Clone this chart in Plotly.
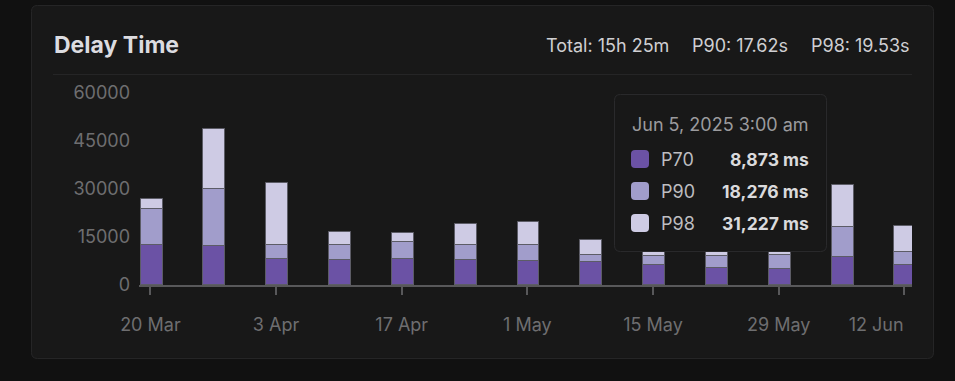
import plotly.graph_objects as go

# ---------------- data ----------------
dates = ["2025-03-20 03:00", "2025-03-27 03:00", "2025-04-03 03:00", "2025-04-10 03:00",
         "2025-04-17 03:00", "2025-04-24 03:00", "2025-05-01 03:00", "2025-05-08 03:00",
         "2025-05-15 03:00", "2025-05-22 03:00", "2025-05-29 03:00", "2025-06-05 03:00",
         "2025-06-12 03:00"]
p70 = [12500, 12300, 8100, 7800, 8200, 7800, 7600, 7050, 6350, 5400, 5000, 8873, 6350]
p90 = [23700, 30000, 12400, 12600, 13500, 12500, 12600, 9350, 9150, 9150, 9250, 18276, 10400]
p98 = [26900, 48800, 31800, 16500, 16100, 19000, 19750, 14000, 13000, 12000, 12500, 31227, 18400]

series_names = ["P70", "P90", "P98"]
series_colors = ["#6b52a5", "#a19dcb", "#cecbe4"]

x_tick_vals = ["2025-03-20", "2025-04-03", "2025-04-17", "2025-05-01",
               "2025-05-15", "2025-05-29", "2025-06-12"]
x_tick_text = ["20 Mar", "3 Apr", "17 Apr", "1 May", "15 May", "29 May", "12 Jun"]
y_tick_vals = [0, 15000, 30000, 45000, 60000]

title_text = "Delay Time"
stats_text = ["Total: 15h 25m", "P90: 17.62s", "P98: 19.53s"]
tooltip_title = "Jun 5, 2025 3:00 am"
tooltip_idx = 11

# ---------------- layout geometry (pixels) ----------------
W, H = 955, 381
L, R, T, B = 139, 912, 93, 285
FONT = "Inter"
X_RANGE = ["2025-03-18 17:30", "2025-06-12 20:30"]


def px_x(x):
    return (x - L) / (R - L)


def px_y(y):
    return (B - y) / (B - T)


def rrect(x0, y0, x1, y1, r):
    def P(x, y):
        return f"{px_x(x):.5f},{px_y(y):.5f}"
    return (f"M {P(x0 + r, y0)} L {P(x1 - r, y0)} Q {P(x1, y0)} {P(x1, y0 + r)} "
            f"L {P(x1, y1 - r)} Q {P(x1, y1)} {P(x1 - r, y1)} "
            f"L {P(x0 + r, y1)} Q {P(x0, y1)} {P(x0, y1 - r)} "
            f"L {P(x0, y0 + r)} Q {P(x0, y0)} {P(x0 + r, y0)} Z")


BAR_W = 2.45 * 86400000

fig = go.Figure()
values = {"P70": p70, "P90": p90, "P98": p98}
for name, color in reversed(list(zip(series_names, series_colors))):
    fig.add_trace(go.Bar(
        x=dates, y=values[name], name=name, width=BAR_W,
        marker=dict(color=color, line=dict(color="#5c5c66", width=1)),
        showlegend=False, hoverinfo="skip",
    ))
# invisible helper trace so the overlay axis (last tick label, left-aligned to its tick) is drawn
fig.add_trace(go.Scatter(x=[dates[-1]], y=[0], xaxis="x2", mode="markers",
                         marker=dict(opacity=0), showlegend=False, hoverinfo="skip"))

shapes = []
shapes.append(dict(type="path", xref="paper", yref="paper", layer="below",
                   path=rrect(31.5, 5.5, 933.5, 358.5, 6),
                   fillcolor="#181818", line=dict(color="#262627", width=1)))
shapes.append(dict(type="line", xref="paper", yref="paper", layer="below",
                   x0=px_x(53), x1=px_x(912), y0=px_y(74.5), y1=px_y(74.5),
                   line=dict(color="#252526", width=1)))
shapes.append(dict(type="path", xref="paper", yref="paper", layer="above",
                   path=rrect(614.5, 94.5, 826.5, 251.5, 6),
                   fillcolor="#181818", line=dict(color="#2a2a2c", width=1)))

annotations = []
annotations.append(dict(xref="paper", yref="paper", x=px_x(52), y=px_y(45),
                        xanchor="left", yanchor="middle", showarrow=False,
                        text=title_text,
                        font=dict(family=FONT, size=23, color="#dcdce0", weight="bold")))
stat_right = [671, 790, 912]
for txt, xr in zip(stats_text, stat_right):
    annotations.append(dict(xref="paper", yref="paper", x=px_x(xr), y=px_y(45),
                            xanchor="right", yanchor="middle", showarrow=False,
                            text=txt, font=dict(family=FONT, size=18, color="#cfcfd2")))

annotations.append(dict(xref="paper", yref="paper", x=px_x(630), y=px_y(124),
                        xanchor="left", yanchor="middle", showarrow=False,
                        text=tooltip_title,
                        font=dict(family=FONT, size=18, color="#9b9b9e")))
row_y = [159, 191, 223]
for name, color, ry in zip(series_names, series_colors, row_y):
    shapes.append(dict(type="path", xref="paper", yref="paper", layer="above",
                       path=rrect(631, ry - 9, 649, ry + 9, 4),
                       fillcolor=color, line=dict(width=0)))
    annotations.append(dict(xref="paper", yref="paper", x=px_x(659), y=px_y(ry),
                            xanchor="left", yanchor="middle", showarrow=False,
                            text=name, font=dict(family=FONT, size=18, color="#bdbdc0")))
    annotations.append(dict(xref="paper", yref="paper", x=px_x(811), y=px_y(ry),
                            xanchor="right", yanchor="middle", showarrow=False,
                            text=f"{values[name][tooltip_idx]:,} ms",
                            font=dict(family=FONT, size=17.5, color="#dadadc", weight="bold")))

main_tick_text = x_tick_text[:-1] + [""]
tickfont = dict(family=FONT, size=18, color="#6e6e70")

fig.update_layout(
    width=W, height=H,
    margin=dict(l=L, r=W - R, t=T, b=H - B, pad=0, autoexpand=False),
    paper_bgcolor="#111111", plot_bgcolor="rgba(0,0,0,0)",
    barmode="overlay", bargap=0,
    hovermode=False,
    shapes=shapes, annotations=annotations,
    font=dict(family=FONT, color="#6e6e70", size=18),
    xaxis=dict(
        type="date", automargin=False, range=X_RANGE,
        tickvals=x_tick_vals, ticktext=main_tick_text,
        ticks="outside", ticklen=8, tickwidth=1.5, tickcolor="#58585a",
        showline=True, linecolor="#58585a", linewidth=1.5,
        showgrid=False, zeroline=False,
        ticklabelstandoff=15,
        tickfont=tickfont,
    ),
    xaxis2=dict(
        type="date", automargin=False, range=X_RANGE,
        overlaying="x", anchor="y", side="bottom",
        tickvals=x_tick_vals[-1:], ticktext=x_tick_text[-1:],
        ticks="outside", ticklen=8, tickwidth=1.5, tickcolor="rgba(0,0,0,0)",
        ticklabelposition="outside left",
        showline=False, showgrid=False, zeroline=False,
        ticklabelstandoff=23,
        tickfont=tickfont,
    ),
    yaxis=dict(
        automargin=False,
        range=[0, 60000], tickvals=y_tick_vals, tickformat="d",
        showgrid=False, zeroline=False, showline=False,
        ticks="", ticklabelstandoff=8,
        tickfont=tickfont,
    ),
)

fig.write_html("out.html",
               config={"displayModeBar": False},
               post_script="document.body.style.margin='0';"
                           "document.body.style.background='#111111';")
